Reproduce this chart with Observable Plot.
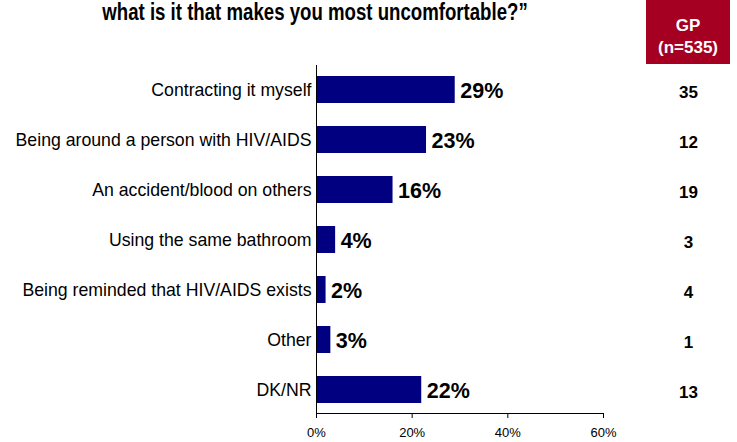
<!DOCTYPE html>
<html>
<head>
<meta charset="utf-8">
<script src="https://cdn.jsdelivr.net/npm/d3@7"></script>
<script src="https://cdn.jsdelivr.net/npm/@observablehq/plot@0.6"></script>
<style>
  html, body { margin: 0; padding: 0; background: #fff; }
  #wrap { position: relative; width: 737px; height: 442px; overflow: hidden; font-family: "Liberation Sans", Arial, sans-serif; }
  #title { position: absolute; left: 15px; width: 600px; top: 1px; text-align: center; font-weight: bold; font-size: 23px; line-height: 23px; color: #000; white-space: nowrap; transform: scaleX(0.81); transform-origin: 300px 0; }
  #gp { position: absolute; left: 646px; top: 0; width: 84px; height: 64px; background: #A50021; color: #fff; font-weight: bold; font-size: 17px; text-align: center; line-height: 22px; padding-top: 15px; box-sizing: border-box; }
  #chart { position: absolute; left: 0; top: 0; }
</style>
</head>
<body>
<div id="wrap">
  <div id="chart"></div>
  <div id="title">what is it that makes you most uncomfortable?”</div>
  <div id="gp">GP<br>(n=535)</div>
</div>
<script>
const categories = ["Contracting it myself", "Being around a person with HIV/AIDS", "An accident/blood on others", "Using the same bathroom", "Being reminded that HIV/AIDS exists", "Other", "DK/NR"];
const values = [29, 23, 16, 4, 2, 3, 22];
const gpValues = [35, 12, 19, 3, 4, 1, 13];
const xTicks = [0, 20, 40, 60];

const data = categories.map((c, i) => ({category: c, value: values[i], gp: gpValues[i]}));

const baseline = (index, scales, channels, dimensions) => {
  const y = dimensions.height - dimensions.marginBottom + 0.5;
  return d3.create("svg:line")
    .attr("x1", scales.x(0)).attr("x2", scales.x(60) + 0.5)
    .attr("y1", y).attr("y2", y)
    .attr("stroke", "#000").attr("stroke-width", 1)
    .node();
};

const chart = Plot.plot({
  width: 737,
  height: 442,
  marginLeft: 316,
  marginRight: 134,
  marginTop: 65,
  marginBottom: 29,
  style: {fontFamily: "'Liberation Sans', Arial, sans-serif", background: "transparent"},
  x: {domain: [0, 60], ticks: xTicks, tickFormat: d => d + "%"},
  y: {domain: categories, paddingInner: 0.46, paddingOuter: 0.21},
  marks: [
    Plot.barX(data, {x: "value", y: "category", fill: "#000080"}),
    Plot.text(data, {x: "value", y: "category", text: d => d.value + "%", textAnchor: "start", dx: 5, dy: 1, fontWeight: "bold", fontSize: 21.5, fill: "#000"}),
    Plot.text(data, {y: "category", text: d => String(d.gp), frameAnchor: "right", textAnchor: "middle", dx: 85, dy: 3, fontWeight: "bold", fontSize: 17, fill: "#000"}),
    Plot.axisX({ticks: xTicks, tickFormat: d => d + "%", tickSize: 5, tickPadding: 9, fontSize: 13, stroke: "#000", fill: "#000", label: null}),
    Plot.axisY({tickSize: 0, tickPadding: 5, fontSize: 17.7, fill: "#000", label: null}),
    Plot.ruleX([0], {stroke: "#000"}),
    baseline
  ]
});
document.getElementById("chart").appendChild(chart);
</script>
</body>
</html>
